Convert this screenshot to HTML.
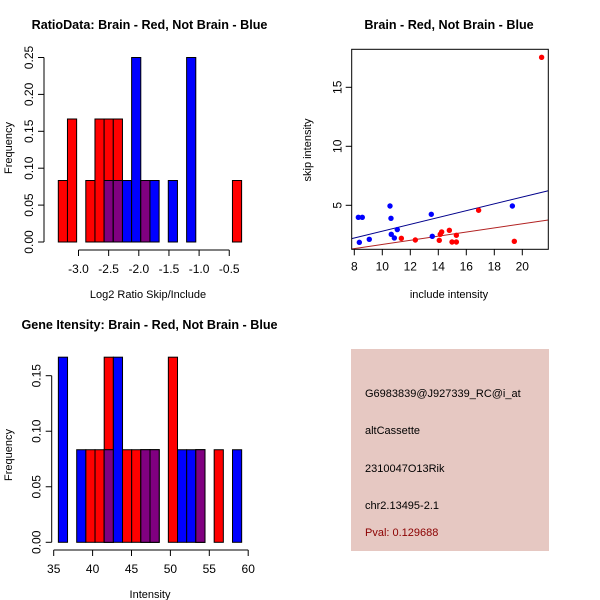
<!DOCTYPE html>
<html><head><meta charset="utf-8"><style>
body{margin:0;background:#fff}
svg{display:block;font-family:"Liberation Sans",sans-serif}
</style></head><body>
<svg id="c" width="600" height="600" xmlns="http://www.w3.org/2000/svg">
<rect x="0" y="0" width="600" height="600" fill="#fff"/>
</svg>
<script>
// Panel 1: ratio histogram (counts in units of 1/12)
const ratioBinStart = -3.335;
const ratioBinWidth = 0.152;
const ratioRed  = [1,2,0,1,2,2,2,0,0,1,0,0,0,0,0,0,0,0,0,1];
const ratioBlue = [0,0,0,0,0,1,1,1,3,1,1,0,1,0,3,0,0,0,0,0];
const ratioXTicks = [-3.0,-2.5,-2.0,-1.5,-1.0,-0.5];
const ratioYTicks = [0.00,0.05,0.10,0.15,0.20,0.25];
// Panel 2: scatter
const blueInclude = [8.29,8.57,8.36,9.07,10.55,10.62,10.64,10.86,11.07,13.5,13.57,19.29];
const blueSkip    = [3.98,3.98,1.86,2.12,4.94,3.9,2.54,2.23,2.94,4.24,2.37,4.94];
const redInclude  = [11.36,12.36,14.07,14.14,14.24,14.79,14.98,15.29,15.29,16.88,19.43,21.38];
const redSkip     = [2.2,2.06,2.03,2.54,2.74,2.88,1.89,1.89,2.46,4.58,1.95,17.54];
const blueFit = [-0.08,0.289];
const redFit  = [-0.067,0.175];
const scatterXTicks = [8,10,12,14,16,18,20];
const scatterYTicks = [5,10,15];
// Panel 3: intensity histogram
const intBinStart = 35.6;
const intBinWidth = 1.178;
const intRed  = [0,0,0,1,1,2,0,1,1,1,1,0,2,0,0,1,0,1,0,0];
const intBlue = [2,0,1,0,0,1,2,0,0,1,1,0,0,1,1,1,0,0,0,1];
const intXTicks = [35,40,45,50,55,60];
const intYTicks = [0.00,0.05,0.10,0.15];
// Panel 4: info
const infoLines = ["G6983839@J927339_RC@i_at","altCassette","2310047O13Rik","chr2.13495-2.1"];
const pvalText = "Pval: 0.129688";

const NS="http://www.w3.org/2000/svg";
const svg=document.getElementById('c');
function mk(tag,attrs,parent){const e=document.createElementNS(NS,tag);for(const k in attrs)e.setAttribute(k,attrs[k]);(parent||svg).appendChild(e);return e;}
function txt(x,y,s,attrs){const e=mk('text',Object.assign({x:x,y:y},attrs||{}));e.textContent=s;return e;}

function hist(g,start,w,red,blue,sx,sy,unit){
  for(let i=0;i<red.length;i++){
    const x0=sx(start+i*w), x1=sx(start+(i+1)*w);
    const r=red[i]*unit,b=blue[i]*unit,m=Math.min(r,b);
    if(r>0){const e=mk('rect',{x:x0,y:sy(r),width:x1-x0,height:sy(0)-sy(r),fill:'#ff0000',stroke:'#000','stroke-width':1},g);
      
      }
    if(b>0){const e=mk('rect',{x:x0,y:sy(b),width:x1-x0,height:sy(0)-sy(b),fill:'#0000ff',stroke:'#000','stroke-width':1},g);
      
      }
    if(m>0){const e=mk('rect',{x:x0,y:sy(m),width:x1-x0,height:sy(0)-sy(m),fill:'#800080',stroke:'#000','stroke-width':1},g);
      
      }
  }
}
function yAxis(g,x,ticks,sy,fmt){
  mk('line',{x1:x,x2:x,y1:sy(ticks[0]),y2:sy(ticks[ticks.length-1]),stroke:'#000'},g);
  ticks.forEach(t=>{const y=sy(t);mk('line',{x1:x-6,x2:x,y1:y,y2:y,stroke:'#000'},g);
    txt(x-11,y,fmt(t),{transform:`rotate(-90 ${x-11} ${y})`,'text-anchor':'middle','font-size':12,fill:'#000'});});
}
function xAxis(g,y,ticks,sx,fmt){
  mk('line',{x1:sx(ticks[0]),x2:sx(ticks[ticks.length-1]),y1:y,y2:y,stroke:'#000'},g);
  ticks.forEach(t=>{const x=sx(t);mk('line',{x1:x,x2:x,y1:y,y2:y+6,stroke:'#000'},g);
    txt(x,y+23,fmt(t),{'text-anchor':'middle','font-size':12,fill:'#000'});});
}

// Panel 1
{
 const g=mk('g',{});
 const sx=v=>78.5+(v+3)*60.3, sy=v=>242-v*738;
 txt(149.5,29,'RatioData: Brain - Red, Not Brain - Blue',{'text-anchor':'middle','font-size':12.6,'font-weight':'bold'});
 hist(g,ratioBinStart,ratioBinWidth,ratioRed,ratioBlue,sx,sy,1/12);
 yAxis(g,44,ratioYTicks,sy,t=>t.toFixed(2));
 xAxis(g,250,ratioXTicks,sx,t=>t.toFixed(1));
 txt(148,298,'Log2 Ratio Skip/Include',{'text-anchor':'middle','font-size':11});
 txt(12,148,'Frequency',{'text-anchor':'middle','font-size':11,transform:'rotate(-90 12 148)'});
}
// Panel 2
{
 const g=mk('g',{});
 const X0=351.7,X1=548.3,Y0=49.3,Y1=249.3;
 const sx=v=>354.3+(v-8)*14, sy=v=>264.3-v*11.8;
 txt(449,29,'Brain - Red, Not Brain - Blue',{'text-anchor':'middle','font-size':12.6,'font-weight':'bold'});
 const cp=mk('clipPath',{id:'cp'},g);mk('rect',{x:X0,y:Y0,width:X1-X0,height:Y1-Y0},cp);
 const xa=(X0-354.3)/14+8, xb=(X1-354.3)/14+8;
 const bl=mk('line',{x1:X0,x2:X1,y1:sy(blueFit[0]+blueFit[1]*xa),y2:sy(blueFit[0]+blueFit[1]*xb),stroke:'#00008b','clip-path':'url(#cp)'},g);
 
 const rl=mk('line',{x1:X0,x2:X1,y1:sy(redFit[0]+redFit[1]*xa),y2:sy(redFit[0]+redFit[1]*xb),stroke:'#b22222','clip-path':'url(#cp)'},g);
 
 blueInclude.forEach((v,i)=>{const c=mk('circle',{cx:sx(v),cy:sy(blueSkip[i]),r:2.7,fill:'#0000ff'},g);
   
   });
 redInclude.forEach((v,i)=>{const c=mk('circle',{cx:sx(v),cy:sy(redSkip[i]),r:2.7,fill:'#ff0000'},g);
   
   });
 mk('rect',{x:X0,y:Y0,width:X1-X0,height:Y1-Y0,fill:'none',stroke:'#000'},g);
 scatterXTicks.forEach(t=>{const x=sx(t);mk('line',{x1:x,x2:x,y1:Y1,y2:Y1+6,stroke:'#000'},g);txt(x,Y1+21,String(t),{'text-anchor':'middle','font-size':12});});
 scatterYTicks.forEach(t=>{const y=sy(t);mk('line',{x1:X0-6,x2:X0,y1:y,y2:y,stroke:'#000'},g);txt(X0-10,y,String(t),{'text-anchor':'middle','font-size':12,transform:`rotate(-90 ${X0-10} ${y})`});});
 txt(449,298,'include intensity',{'text-anchor':'middle','font-size':11});
 txt(311,150,'skip intensity',{'text-anchor':'middle','font-size':11,transform:'rotate(-90 311 150)'});
}
// Panel 3
{
 const g=mk('g',{});
 const sx=v=>53.7+(v-35)*7.78, sy=v=>542.3-v*1110.7;
 txt(149.5,329,'Gene Itensity: Brain - Red, Not Brain - Blue',{'text-anchor':'middle','font-size':12.6,'font-weight':'bold'});
 hist(g,intBinStart,intBinWidth,intRed,intBlue,sx,sy,1/12);
 yAxis(g,51.7,intYTicks,sy,t=>t.toFixed(2));
 xAxis(g,550,intXTicks,sx,t=>String(t));
 txt(150,598,'Intensity',{'text-anchor':'middle','font-size':11});
 txt(12,455,'Frequency',{'text-anchor':'middle','font-size':11,transform:'rotate(-90 12 455)'});
}
// Panel 4
{
 const g=mk('g',{});
 mk('rect',{x:351,y:349,width:198,height:202,fill:'#e6c8c2'},g);
 const ys=[397,434,472,509];
 infoLines.forEach((s,i)=>{const t=txt(365,ys[i],s,{'font-size':11,fill:'#000'},g);
   
   });
 const p=txt(365,536,pvalText,{'font-size':11,fill:'#8b0000'});
 
 
}
</script>
</body></html>
